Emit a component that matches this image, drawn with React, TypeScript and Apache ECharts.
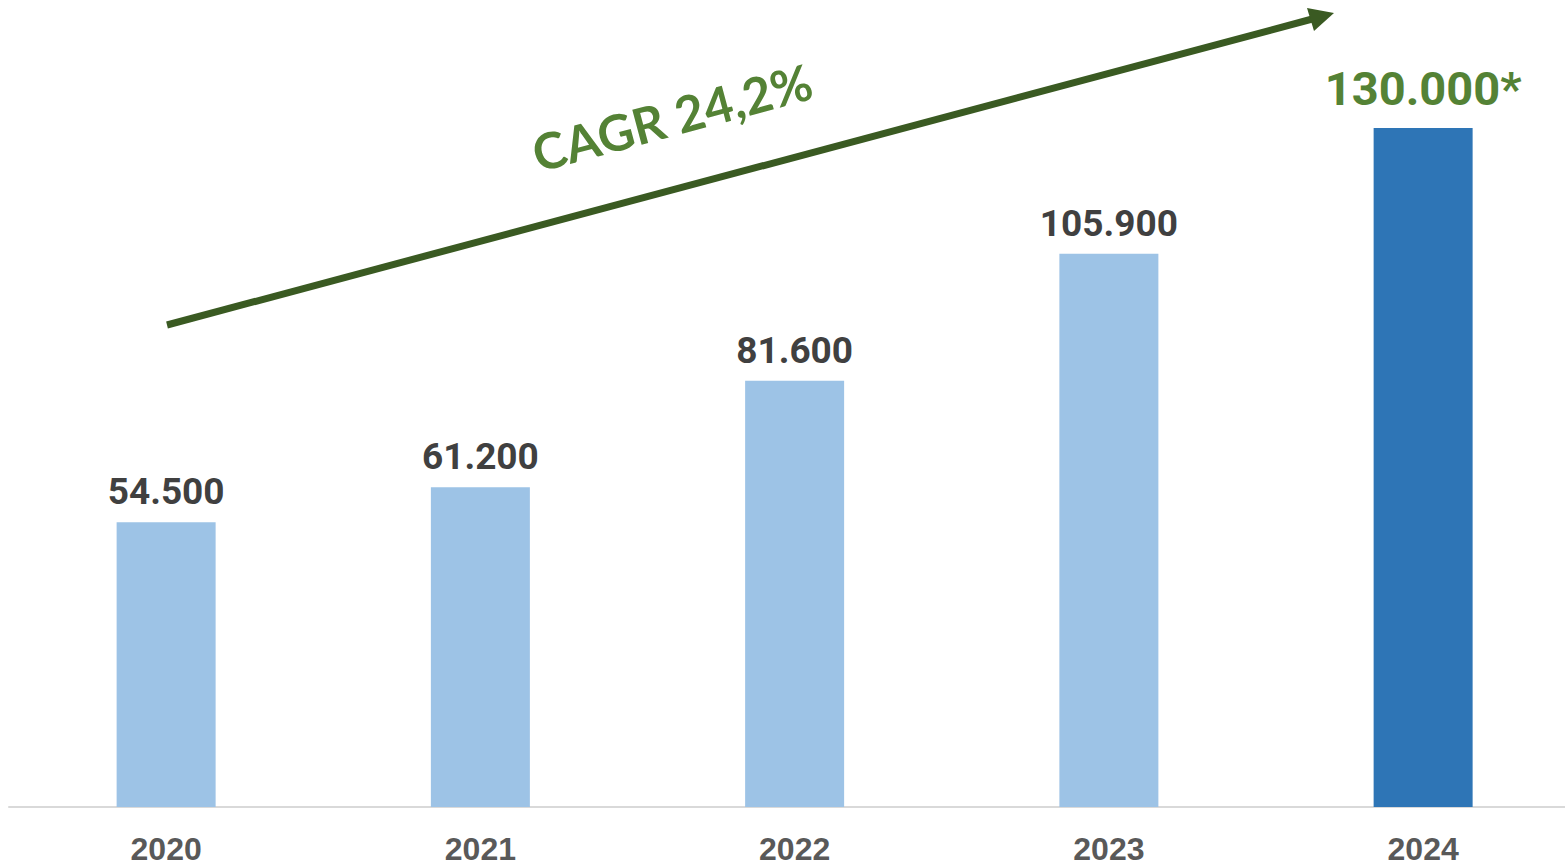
import React, { useEffect, useRef } from "react";
import * as echarts from "echarts";

const categories = ["2020", "2021", "2022", "2023", "2024"];
const values = [54500, 61200, 81600, 105900, 130000];
const valueLabels = ["54.500", "61.200", "81.600", "105.900", "130.000*"];
const cagrText = "CAGR 24,2%";

const LIGHT = "#9dc3e6";
const DARK = "#2e75b6";
const GREEN = "#548235";
const ARROW = "#3a5a22";

export default function App() {
  const ref = useRef<HTMLDivElement>(null);
  useEffect(() => {
    if (!ref.current) return;
    const chart = echarts.init(ref.current, null, { renderer: "svg" });
    const last = values.length - 1;
    chart.setOption({
      animation: false,
      backgroundColor: "#ffffff",
      grid: {
        left: 9,
        top: 23.5,
        width: 1571.25,
        bottom: 59,
        containLabel: false,
        outerBoundsMode: "none",
      },
      xAxis: {
        type: "category",
        data: categories,
        axisLine: { show: true, lineStyle: { color: "#d9d9d9", width: 2 } },
        axisTick: { show: false },
        axisLabel: {
          color: "#595959",
          fontFamily: "Liberation Sans, Arial, sans-serif",
          fontWeight: "bold",
          fontSize: 32,
          margin: 26,
        },
      },
      yAxis: {
        type: "value",
        min: 0,
        max: 150000,
        show: false,
        splitLine: { show: false },
      },
      series: [
        {
          type: "bar",
          barWidth: 99,
          data: values.map((v, i) => ({
            value: v,
            itemStyle: { color: i === last ? DARK : LIGHT },
            label: {
              show: true,
              position: "top",
              distance: i === last ? 16 : 12,
              formatter: valueLabels[i],
              color: i === last ? GREEN : "#404040",
              fontFamily: "Roboto, sans-serif",
              fontWeight: "bold",
              fontSize: i === last ? 47 : 37,
            },
          })),
        },
      ],
      graphic: [
        {
          type: "line",
          shape: { x1: 167, y1: 325, x2: 1316, y2: 18 },
          style: { stroke: ARROW, lineWidth: 7 },
        },
        {
          type: "polygon",
          shape: { points: [[1334, 13], [1307, 8], [1314, 31]] },
          style: { fill: ARROW },
        },
        {
          type: "text",
          x: 672,
          y: 117,
          rotation: (15 * Math.PI) / 180,
          style: {
            text: cagrText,
            fill: GREEN,
            font: "bold 50px Lato, sans-serif",
            textAlign: "center",
            textVerticalAlign: "middle",
          },
        },
      ],
    });
    return () => chart.dispose();
  }, []);
  return (
    <div
      ref={ref}
      style={{ position: "fixed", left: 0, top: 0, width: 1565, height: 866 }}
    />
  );
}
